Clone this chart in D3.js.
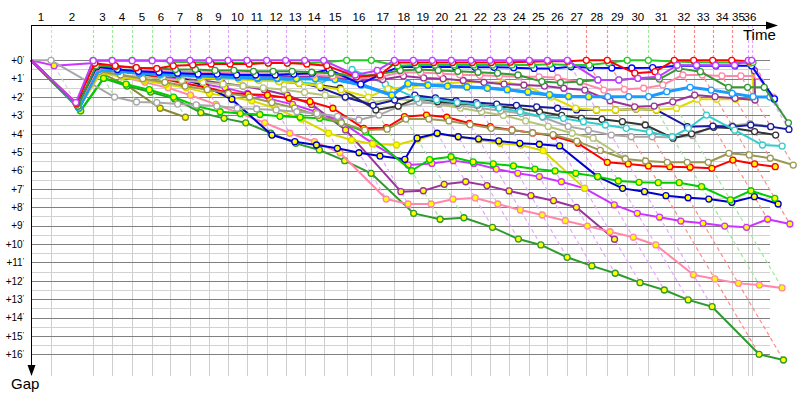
<!DOCTYPE html>
<html><head><meta charset="utf-8">
<script src="https://cdn.jsdelivr.net/npm/d3@7"></script>
<style>body{margin:0;background:#fff}svg{display:block;font-family:"Liberation Sans",Arial,sans-serif}</style>
</head><body><svg id="c" width="800" height="400"></svg>
<script>
// leader's elapsed time (minutes) at each checkpoint 0..36
const cpTime = [0,1.85,5.74,7.5,9.35,11.2,12.87,14.72,16.48,18.24,20.0,21.82,23.58,25.34,27.1,29.23,31.51,33.64,35.4,37.16,38.92,40.74,42.5,44.29,46.14,47.81,49.66,51.42,53.36,55.21,57.16,59.56,61.36,63.12,64.88,66.42,66.73];
const stageLabels = ["1","2","3","4","5","6","7","8","9","10","11","12","13","14","15","16","17","18","19","20","21","22","23","24","25","26","27","28","29","30","31","32","33","34","35","36"];
const gapTicks = [0,1,2,3,4,5,6,7,8,9,10,11,12,13,14,15,16];

// gaps (minutes) of each rider at checkpoints 0..n
const darkOliveY = [0,2.3,0.7,1.35,2.61,3.1];
const darkGreenY = [0,2.74,0.98,1.4,1.73,2.1,2.85,3.16,3.4,3.96,4.52,4.88,5.46,6.15,8.33,8.65,8.57,9.09,9.73,10.05,10.72,11.19,11.59,12.1,12.5,13.04,13.41,16.0,16.31];
const purpleY = [0,2.6,0.5,0.6,0.75,0.9,1.0,1.1,1.25,1.4,1.6,1.9,2.4,3.79,7.15,7.1,6.75,6.61,6.82,7.11,7.37,7.64,8.0,9.74];
const pinkY = [0,2.6,0.6,0.9,1.2,1.5,1.9,2.4,2.9,3.4,3.97,4.43,5.03,7.55,7.82,7.82,7.56,7.49,7.82,8.15,8.42,8.73,9.02,9.33,9.63,10.05,11.67,11.9,12.14,12.23,12.39];
const magentaY = [0,0.29,0.15,0.5,0.7,0.9,1.1,1.3,1.5,1.8,2.1,2.4,2.8,3.3,4.52,5.7,5.61,5.46,5.61,5.92,6.15,6.33,6.61,6.97,7.87,8.33,8.54,8.75,8.87,9.02,9.09,8.65,8.91];
const yellowY = [0,2.6,0.7,0.9,1.1,1.3,1.5,1.8,2.0,2.2,2.6,3.2,3.97,4.34,4.55,4.61,4.3,4.01,4.16,4.34,4.52,4.61,4.92,6.97];
const blueY = [0,2.6,0.5,0.55,0.6,0.7,0.95,1.4,2.12,4.07,4.43,4.61,4.79,5.03,5.21,5.39,4.24,3.97,4.16,4.28,4.39,4.52,4.57,4.66,6.33,6.97,7.15,7.37,7.48,7.55,7.73,7.42,7.82];
const greenY = [0,2.75,0.98,1.3,1.6,2.0,2.5,2.8,2.9,2.95,3.05,3.1,3.15,3.4,3.9,6.01,5.4,5.25,5.53,5.64,5.75,5.92,6.02,6.15,6.33,6.57,6.64,6.66,6.66,6.88,7.6,7.1,7.51];
const redY = [0,2.55,0.3,0.5,0.7,1.0,1.25,1.47,1.76,1.85,1.89,2.07,2.25,2.61,3.7,3.67,3.07,2.98,3.1,3.43,3.61,3.79,3.95,4.12,4.52,5.55,5.64,5.75,5.79,5.82,5.88,5.43,5.64,5.79];
const skyY = [0,2.6,0.45,0.55,0.65,0.7,0.75,0.8,0.85,0.9,0.95,0.97,1.0,1.0,1.05,1.35,1.9,1.27,1.36,1.41,1.45,1.52,1.6,1.72,1.87,1.96,1.98];
const lightOliveW = [0,2.6,0.6,0.8,0.9,1.0,1.1,1.2,1.3,1.4,1.5,1.6,1.75,1.9,2.05,2.3,2.1,2.2,2.4,2.6,2.8,3.0,3.3,3.6,3.97,4.24,5.33];
const oliveW = [0,2.6,0.6,0.8,1.0,1.2,1.4,1.6,1.8,2.0,2.3,2.6,3.0,3.4,3.8,3.75,3.2,3.2,3.3,3.5,3.7,3.8,3.95,4.05,4.4,4.9,5.37,5.48,5.55,5.55,5.55,5.06,5.15,5.33,5.7];
const greyW = [0,0,2.0,2.27,2.3,2.38,2.43,2.49,2.61,2.65,2.7,2.8,2.9,3.05,3.25,2.98,2.52,2.3,2.35,2.45,2.6,2.75,2.9,3.1,3.6,3.8,4.07,4.16,4.16,4.2,4.1,3.58,3.55,3.45,3.6];
const blackW = [0,2.55,0.5,0.6,0.7,0.75,0.8,0.85,0.9,0.95,1.0,1.16,1.25,1.34,1.52,2.7,2.49,2.07,2.25,2.34,2.43,2.52,2.61,2.8,3.0,3.16,3.21,3.34,3.52,4.24,4.0,3.65,3.7,3.88,4.07];
const navyW = [0,2.5,0.4,0.5,0.6,0.7,0.8,0.85,0.9,0.95,1.0,1.1,1.2,1.5,2.0,2.45,2.16,1.9,2.05,2.2,2.3,2.38,2.45,2.53,2.61,2.7,2.7,2.7,2.65,2.7,3.61,3.58,3.61,3.52,3.61,3.76];
const cyanW = [0,2.6,0.5,0.6,0.7,0.8,0.85,0.9,0.95,1.0,1.05,1.1,1.2,1.3,0.9,0.5,1.3,2.09,2.15,2.3,2.4,2.6,2.8,3.07,3.16,3.34,3.52,3.7,3.9,4.16,3.7,2.98,3.8,4.61,4.67];
const yellowW = [0,2.5,0.4,0.55,0.65,0.75,0.85,0.95,1.0,1.05,1.1,1.15,1.25,1.4,1.6,2.0,1.55,1.45,1.3,1.25,1.2,1.2,1.2,1.34,2.0,2.61,2.7,2.7,2.65,2.7,2.61,2.12,2.12,2.12,2.12,0.26];
const purpleW = [0,2.55,0.45,0.55,0.6,0.65,0.7,0.75,0.8,0.8,0.85,0.85,0.9,0.9,0.95,1.1,1.05,0.85,0.96,1.0,1.1,1.2,1.3,1.35,1.4,1.52,1.62,2.2,2.53,2.49,2.26,1.89,1.98,2.07,2.16,0.57];
const skyW = [0,2.6,0.5,0.6,0.7,0.75,0.8,0.85,0.9,0.95,1.0,1.0,1.0,1.0,1.05,1.3,1.9,1.27,1.35,1.4,1.45,1.5,1.6,1.75,1.89,1.98,1.98,1.98,1.98,1.98,1.71,1.47,1.62,1.8,1.98,2.0,2.12];
const pinkW = [0,2.5,0.4,0.5,0.55,0.6,0.6,0.65,0.65,0.7,0.7,0.72,0.75,0.8,0.85,1.0,0.9,0.65,0.67,0.72,0.78,0.82,0.86,0.89,0.9,0.95,1.2,1.62,1.58,1.52,1.34,0.8,0.8,0.85,0.85,0.85,2.0];
const blueW = [0,2.45,0.35,0.5,0.6,0.65,0.7,0.75,0.75,0.8,0.8,0.8,0.75,0.7,0.5,1.3,0.78,0.37,0.37,0.37,0.37,0.38,0.38,0.4,0.44,0.44,0.35,0.4,0.42,0.42,0.4,0.3,0.3,0.3,0.3,0.3,2.1];
const darkGreenW = [0,2.5,0.3,0.35,0.4,0.45,0.5,0.5,0.55,0.55,0.6,0.6,0.6,0.65,0.7,0.9,0.75,0.55,0.5,0.55,0.6,0.65,0.7,0.8,1.16,1.22,1.16,1.07,1.07,0.98,1.02,0.44,0.62,1.47,1.47,1.47,3.4];
const greenW = [0,2.4,0,0,0,0,0.08,0.1,0.12,0.15,0.15,0.15,0.15,0.15,0.1,0,0,0.3,0.25,0.25,0.25,0.25,0.25,0.25,0.25,0.22,0.25,0.26,0.13,0,0,0.07,0.1,0.12,0.12,0.15,0.12];
const redW = [0,2.35,0.16,0.29,0.4,0.45,0.3,0.25,0.2,0.2,0.2,0.15,0.15,0.2,0.29,0.9,0.8,0.12,0.12,0.12,0.12,0.12,0.12,0.1,0.08,0.05,0.05,0,0,0.7,0.62,0,0,0,0,0.05];
const violetW = [0,2.3,0.02,0.02,0.02,0.02,0,0,0,0,0,0,0,0,0,0.8,0.55,0,0,0,0,0,0,0,0,0,0,1.07,1.07,0.98,0.9,0.27,0.27,0.27,0.27,0,0];

// styles (kept apart from data)
const riders = [
  {g:darkOliveY, c:"#888833", f:"#ffff00"},
  {g:darkGreenY, c:"#2e9a2e", f:"#ffff00"},
  {g:purpleY, c:"#993399", f:"#ffff00"},
  {g:pinkY, c:"#ff88aa", f:"#ffff00"},
  {g:magentaY, c:"#cc33ff", f:"#ffff00"},
  {g:yellowY, c:"#d8d800", f:"#ffff00"},
  {g:blueY, c:"#0000cc", f:"#ffff00"},
  {g:greenY, c:"#00cc00", f:"#ffff00"},
  {g:redY, c:"#ff0000", f:"#ffff00"},
  {g:lightOliveW, c:"#b4c47a", f:"#ffffff"},
  {g:oliveW, c:"#999955", f:"#ffffff"},
  {g:greyW, c:"#a8a8a8", f:"#ffffff"},
  {g:blackW, c:"#333333", f:"#ffffff"},
  {g:navyW, c:"#1a1aa0", f:"#ffffff"},
  {g:cyanW, c:"#33cccc", f:"#ffffff"},
  {g:yellowW, c:"#dddd00", f:"#ffffff"},
  {g:purpleW, c:"#993399", f:"#ffffff"},
  {g:skyW, c:"#1a9cff", f:"#ffffff", w:3},
  {g:skyY, c:"#1a9cff", f:"#ffff00", w:3},
  {g:pinkW, c:"#ff88aa", f:"#ffffff"},
  {g:blueW, c:"#0000ff", f:"#ffffff"},
  {g:darkGreenW, c:"#339933", f:"#ffffff"},
  {g:greenW, c:"#22cc22", f:"#ffffff"},
  {g:redW, c:"#ff0000", f:"#ffffff"},
  {g:violetW, c:"#c03cff", f:"#ffffff"}
];

const svg = d3.select("#c");
const x = d3.scaleLinear().domain([0,70]).range([31,787]);
const y = d3.scaleLinear().domain([0,16]).range([60.3,354.3]);
const axisTop = 25, gridRight = x(68.43), gridBottom = y(17.18);

// minor (half-minute) grid
svg.append("g").selectAll("line").data(gapTicks.slice(0,-1)).join("line")
  .attr("x1",x(0)).attr("x2",gridRight)
  .attr("y1",d=>Math.round(y(d+0.5))+0.5).attr("y2",d=>Math.round(y(d+0.5))+0.5)
  .attr("stroke","#d2d2d2");
// checkpoint verticals (grey part)
svg.append("g").selectAll("line").data(cpTime.slice(1)).join("line")
  .attr("x1",d=>Math.round(x(d))+0.5).attr("x2",d=>Math.round(x(d))+0.5)
  .attr("y1",y(0)).attr("y2",gridBottom).attr("stroke","#cfcfcf");
// major grid
svg.append("g").selectAll("line").data(gapTicks).join("line")
  .attr("x1",x(0)).attr("x2",gridRight)
  .attr("y1",d=>Math.round(y(d))+0.5).attr("y2",d=>Math.round(y(d))+0.5)
  .attr("stroke","#808080");

// leader colour and max gap per checkpoint
const cps = cpTime.map((t,k)=>{
  const here = riders.filter(r=>r.g.length>k);
  const lead = here.reduce((a,b)=>b.g[k]<=a.g[k]?b:a);
  return {t, k, lead: lead.c, max: d3.max(here, r=>r.g[k])};
}).slice(1);
const light = c => d3.interpolateRgb(c,"#ffffff")(0.55);

// coloured checkpoint markers above gap 0
svg.append("g").selectAll("line").data(cps).join("line")
  .attr("x1",d=>Math.round(x(d.t))+0.5).attr("x2",d=>Math.round(x(d.t))+0.5)
  .attr("y1",axisTop).attr("y2",y(0))
  .attr("stroke",d=>light(d.lead)).attr("stroke-width",1.2).attr("stroke-dasharray","3,2");
// diagonal iso-checkpoint lines
svg.append("g").selectAll("line").data(cps).join("line")
  .attr("x1",d=>x(d.t)).attr("y1",y(0))
  .attr("x2",d=>x(d.t+d.max)).attr("y2",d=>y(d.max))
  .attr("stroke",d=>light(d.lead)).attr("stroke-width",1.2).attr("stroke-dasharray","4,3");

// riders
const line = d3.line().x((g,k)=>x(cpTime[k]+g)).y(g=>y(g));
riders.forEach(r=>{
  const g = svg.append("g");
  g.append("path").attr("d",line(r.g)).attr("fill","none")
    .attr("stroke",r.c).attr("stroke-width",r.w||2).attr("stroke-linejoin","round");
  g.selectAll("circle").data(r.g.map((v,k)=>({v,k})).slice(1)).join("circle")
    .attr("cx",d=>x(cpTime[d.k]+d.v)).attr("cy",d=>y(d.v)).attr("r",3)
    .attr("fill",r.f).attr("stroke",r.c).attr("stroke-width",1.3);
});

// axes
svg.append("line").attr("x1",x(0)).attr("x2",766).attr("y1",axisTop+0.5).attr("y2",axisTop+0.5).attr("stroke","#000");
svg.append("path").attr("d","M766,21.5L778,25.5L766,29.5Z").attr("fill","#000");
svg.append("line").attr("x1",x(0)+0.5).attr("x2",x(0)+0.5).attr("y1",axisTop).attr("y2",366).attr("stroke","#000");
svg.append("path").attr("d","M27.5,365L31.5,376L35.5,365Z").attr("fill","#000");

// stage labels (centred in each interval)
svg.append("g").selectAll("text").data(stageLabels).join("text")
  .attr("x",(d,i)=>x((cpTime[i]+cpTime[i+1])/2) + (i===34?-1.5:0)).attr("y",21)
  .attr("text-anchor","middle").attr("font-size",11.5).attr("fill","#000").text(d=>d);

// gap tick labels via d3 axis
const ya = svg.append("g").attr("transform","translate(24,0)")
  .call(d3.axisLeft(y).tickValues(gapTicks).tickSize(0).tickPadding(0));
ya.select(".domain").remove();
ya.selectAll("text").attr("font-size",10).attr("font-family","Liberation Sans, Arial, sans-serif")
  .attr("fill","#000").text(d=>"+"+d)
  .append("tspan").attr("font-size",7).attr("dy",-3).text("'");

svg.append("text").attr("x",743).attr("y",40).attr("font-size",15).text("Time");
svg.append("text").attr("x",11).attr("y",389).attr("font-size",15).text("Gap");
</script></body></html>
